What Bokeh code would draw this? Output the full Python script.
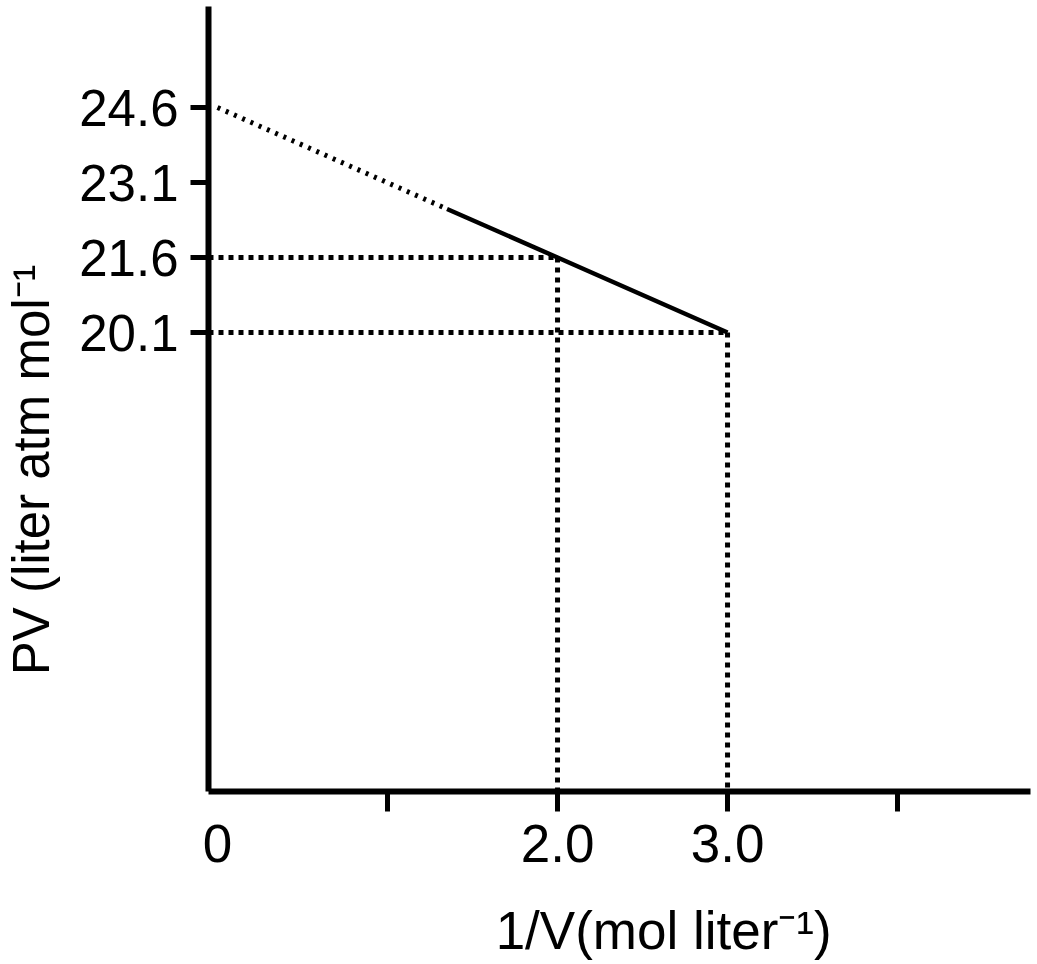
from bokeh.embed import file_html
from bokeh.models import FixedTicker, LinearAxis, Range1d
from bokeh.plotting import figure
from bokeh.resources import INLINE

# values
y_ticks = [20.1, 21.6, 23.1, 24.6]
y_tick_labels = ["20.1", "21.6", "23.1", "24.6"]
x_tick_marks = [1, 2, 3, 4]
x_label_ticks = [0, 2, 3]
x_tick_labels = ["0", "2.0", "3.0"]

# measured part of the line and its extrapolation to 1/V = 0
meas_x = [1.35, 2.0, 3.0]
meas_y = [22.57, 21.6, 20.1]
extrap_x = [0.0, 1.35]
extrap_y = [24.6, 22.57]

# points picked out with dotted guides
guide_x = [2.0, 3.0]
guide_y = [21.6, 20.1]

x_lo, x_hi = -0.053, 4.782
y_lo, y_hi = 10.92, 26.62

FONT = "Liberation Sans"
NBSP = "\u00a0"

p = figure(
    width=1037,
    height=964,
    x_range=Range1d(x_lo, x_hi),
    y_range=Range1d(y_lo, y_hi),
    output_backend="svg",
    toolbar_location=None,
    min_border_left=208,
    min_border_right=7,
    min_border_top=6,
    min_border_bottom=173,
)
p.grid.visible = False
p.outline_line_color = None
p.background_fill_color = "white"
p.border_fill_color = "white"

for ax in (p.xaxis[0], p.yaxis[0]):
    ax.axis_line_width = 6
    ax.axis_line_color = "black"
    ax.major_tick_line_width = 5
    ax.major_tick_line_color = "black"
    ax.major_tick_in = 0
    ax.minor_tick_line_color = None
    ax.major_label_text_font = FONT
    ax.major_label_text_color = "black"

p.yaxis.ticker = FixedTicker(ticks=y_ticks)
p.yaxis.major_label_overrides = dict(zip(y_ticks, y_tick_labels))
p.yaxis.major_tick_out = 18
p.yaxis.major_label_standoff = 12
p.yaxis.major_label_text_font_size = "51px"
# title sits below the middle of the axis in the original, hence the padding
p.yaxis.axis_label = "PV (liter atm mol\u207b\u00b9" + NBSP * 10
p.yaxis.axis_label_text_font = FONT
p.yaxis.axis_label_text_font_size = "51px"
p.yaxis.axis_label_text_font_style = "normal"
p.yaxis.axis_label_text_color = "black"
p.yaxis.axis_label_standoff = 16

# tick marks only on the main x axis
p.xaxis.ticker = FixedTicker(ticks=x_tick_marks)
p.xaxis.major_label_overrides = {t: "" for t in x_tick_marks}
p.xaxis.major_tick_out = 20
p.xaxis.major_label_standoff = 0
p.xaxis.major_label_text_font_size = "0px"

# a second, bare axis for the labels (0 has no tick mark) and the title
xlab = LinearAxis(
    ticker=FixedTicker(ticks=x_label_ticks),
    major_label_overrides=dict(zip(x_label_ticks, x_tick_labels)),
    axis_line_color=None,
    major_tick_line_color=None,
    minor_tick_line_color=None,
    major_tick_in=0,
    major_tick_out=0,
    major_label_standoff=13,
    major_label_text_font=FONT,
    major_label_text_font_size="53px",
    major_label_text_color="black",
    axis_label=NBSP * 6 + "1/V(mol liter\u207b\u00b9)",
    axis_label_text_font=FONT,
    axis_label_text_font_size="53px",
    axis_label_text_font_style="normal",
    axis_label_text_color="black",
    axis_label_standoff=36,
)
p.add_layout(xlab, "below")

# dotted guides to the axes
for gx, gy in zip(guide_x, guide_y):
    p.line([x_lo, gx], [gy, gy], color="black", line_width=5, line_dash="5 5")
    p.line([gx, gx], [gy, y_lo], color="black", line_width=5, line_dash="5 5")

p.line(extrap_x, extrap_y, color="black", line_width=5, line_dash="3 6")
p.line(meas_x, meas_y, color="black", line_width=4.5)

open("out.html", "w").write(file_html(p, INLINE))
